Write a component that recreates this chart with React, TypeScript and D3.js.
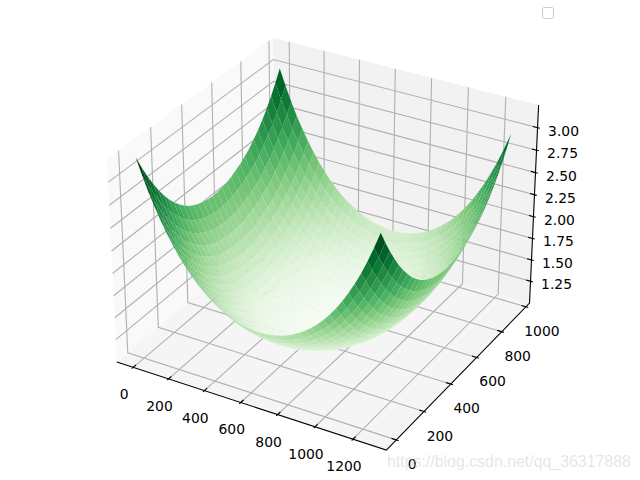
import React from "react";
import * as d3 from "d3";

const xTicks = [0, 200, 400, 600, 800, 1000, 1200];
const yTicks = [0, 200, 400, 600, 800, 1000];
const zTicks = [1.25, 1.5, 1.75, 2, 2.25, 2.5, 2.75, 3];
const zTickLabels = ["1.25", "1.50", "1.75", "2.00", "2.25", "2.50", "2.75", "3.00"];
const xLim = [-64, 1344];
const yLim = [-48, 1008];
const zLim = [1.036, 3.202];

const xs = [0, 32, 64, 96, 128, 160, 192, 224, 256, 288, 320, 352, 384, 416, 448, 480, 512, 544, 576, 608, 640, 672, 704, 736, 768, 800, 832, 864, 896, 928, 960, 992, 1024, 1056, 1088, 1120, 1152, 1184, 1216, 1248, 1280];
const ys = [0, 32, 64, 96, 128, 160, 192, 224, 256, 288, 320, 352, 384, 416, 448, 480, 512, 544, 576, 608, 640, 672, 704, 736, 768, 800, 832, 864, 896, 928, 960];

// Heights: one quadrant of the bowl, rows outward from the centre in y,
// columns outward from the centre in x. The other quadrants mirror it.
const bowlQuadrant = [
  [1.080, 1.082, 1.087, 1.097, 1.110, 1.127, 1.149, 1.176, 1.207, 1.244, 1.286, 1.335, 1.391, 1.455, 1.526, 1.607, 1.697, 1.798, 1.910, 2.034, 2.172],
  [1.082, 1.084, 1.089, 1.099, 1.112, 1.129, 1.151, 1.178, 1.209, 1.246, 1.289, 1.338, 1.394, 1.457, 1.529, 1.610, 1.700, 1.801, 1.913, 2.038, 2.176],
  [1.087, 1.089, 1.095, 1.104, 1.118, 1.135, 1.157, 1.184, 1.216, 1.253, 1.296, 1.345, 1.401, 1.465, 1.537, 1.618, 1.709, 1.810, 1.923, 2.048, 2.187],
  [1.097, 1.099, 1.104, 1.114, 1.127, 1.145, 1.167, 1.194, 1.226, 1.264, 1.307, 1.357, 1.414, 1.478, 1.551, 1.633, 1.724, 1.826, 1.940, 2.066, 2.205],
  [1.110, 1.112, 1.118, 1.127, 1.141, 1.159, 1.182, 1.209, 1.242, 1.280, 1.324, 1.374, 1.432, 1.497, 1.570, 1.653, 1.745, 1.848, 1.963, 2.090, 2.231],
  [1.127, 1.129, 1.135, 1.145, 1.159, 1.178, 1.201, 1.229, 1.262, 1.300, 1.345, 1.396, 1.455, 1.521, 1.596, 1.679, 1.773, 1.877, 1.993, 2.122, 2.264],
  [1.149, 1.151, 1.157, 1.167, 1.182, 1.201, 1.224, 1.253, 1.286, 1.326, 1.372, 1.424, 1.484, 1.551, 1.627, 1.712, 1.807, 1.913, 2.031, 2.161, 2.305],
  [1.176, 1.178, 1.184, 1.194, 1.209, 1.229, 1.253, 1.282, 1.317, 1.357, 1.404, 1.457, 1.518, 1.587, 1.665, 1.752, 1.848, 1.956, 2.076, 2.209, 2.355],
  [1.207, 1.209, 1.216, 1.226, 1.242, 1.262, 1.286, 1.317, 1.352, 1.394, 1.442, 1.497, 1.559, 1.630, 1.709, 1.798, 1.897, 2.007, 2.129, 2.264, 2.413],
  [1.244, 1.246, 1.253, 1.264, 1.280, 1.300, 1.326, 1.357, 1.394, 1.437, 1.486, 1.543, 1.607, 1.679, 1.761, 1.852, 1.953, 2.066, 2.190, 2.328, 2.480],
  [1.286, 1.289, 1.296, 1.307, 1.324, 1.345, 1.372, 1.404, 1.442, 1.486, 1.537, 1.596, 1.662, 1.736, 1.820, 1.913, 2.017, 2.133, 2.260, 2.401, 2.556],
  [1.335, 1.338, 1.345, 1.357, 1.374, 1.396, 1.424, 1.457, 1.497, 1.543, 1.596, 1.656, 1.724, 1.801, 1.887, 1.983, 2.090, 2.209, 2.339, 2.484, 2.642],
  [1.391, 1.394, 1.401, 1.414, 1.432, 1.455, 1.484, 1.518, 1.559, 1.607, 1.662, 1.724, 1.795, 1.874, 1.963, 2.062, 2.172, 2.294, 2.428, 2.576, 2.739],
  [1.455, 1.457, 1.465, 1.478, 1.497, 1.521, 1.551, 1.587, 1.630, 1.679, 1.736, 1.801, 1.874, 1.956, 2.048, 2.150, 2.264, 2.389, 2.528, 2.680, 2.847],
  [1.526, 1.529, 1.537, 1.551, 1.570, 1.596, 1.627, 1.665, 1.709, 1.761, 1.820, 1.887, 1.963, 2.048, 2.143, 2.249, 2.366, 2.496, 2.638, 2.795, 2.966],
  [1.607, 1.610, 1.618, 1.633, 1.653, 1.679, 1.712, 1.752, 1.798, 1.852, 1.913, 1.983, 2.062, 2.150, 2.249, 2.359, 2.480, 2.613, 2.760, 2.922, 3.098],
];
// Estimated tilt of the bowl, one offset per grid column and per grid row.
const xTilt = [0.03, 0.0285, 0.027, 0.0255, 0.024, 0.0225, 0.021, 0.0195, 0.018, 0.0165, 0.015, 0.0135, 0.012, 0.0105, 0.009, 0.0075, 0.006, 0.0045, 0.003, 0.0015, 0, -0.0015, -0.003, -0.0045, -0.006, -0.0075, -0.009, -0.0105, -0.012, -0.0135, -0.015, -0.0165, -0.018, -0.0195, -0.021, -0.0225, -0.024, -0.0255, -0.027, -0.0285, -0.03];
const yTilt = [0.1, 0.0853, 0.0707, 0.056, 0.0413, 0.0267, 0.015, 0.0033, -0.0033, -0.01, -0.0167, -0.0183, -0.02, -0.0217, -0.0233, -0.025, -0.0267, -0.0283, -0.03, -0.0317, -0.0333, -0.04, -0.0467, -0.0533, -0.06, -0.0667, -0.0733, -0.08, -0.0867, -0.0933, -0.1];

const height = (i: number, j: number) => bowlQuadrant[Math.abs(15 - j)][Math.abs(20 - i)] + xTilt[i] + yTilt[j];

const box = [1.143, 1.143, 0.857];
const qx = d3.scaleLinear().domain(xLim).range([-0.5, 0.5]);
const qy = d3.scaleLinear().domain(yLim).range([-0.5, 0.5]);
const qz = d3.scaleLinear().domain(zLim).range([-0.5, 0.5]);
const paneMargin = 1 / 48;
const xLo = qx.invert(-0.5 - paneMargin), xHi = qx.invert(0.5 + paneMargin);
const yLo = qy.invert(-0.5 - paneMargin), yHi = qy.invert(0.5 + paneMargin);
const zLo = qz.invert(-0.5 - paneMargin), zHi = qz.invert(0.5 + paneMargin);

const sx = d3.scaleLinear().domain([0, 1]).range([327, 327 + 2593]);
const sy = d3.scaleLinear().domain([0, 1]).range([234, 234 - 2593]);

function project(x: number, y: number, z: number) {
  const a = qx(x) * box[0], b = qy(y) * box[1], c = qz(z) * box[2];
  const s3 = Math.sqrt(3) / 2;
  const u = s3 * a + 0.5 * b;
  const v = -0.25 * a + (s3 / 2) * b + s3 * c;
  const n = 0.5 * s3 * a - 0.75 * b + 0.5 * c;
  const w = 10 - n;
  return { px: sx(u / w), py: sy(v / w), w };
}
const line = d3.line<[number, number, number]>().x((d) => project(d[0], d[1], d[2]).px).y((d) => project(d[0], d[1], d[2]).py);

type C = { path: string; z: number; depth: number };
const cells: C[] = [];
for (let j = 0; j < ys.length - 1; j++) for (let i = 0; i < xs.length - 1; i++) {
  const pts: [number, number, number][] = [
    [xs[i], ys[j], height(i, j)], [xs[i + 1], ys[j], height(i + 1, j)],
    [xs[i + 1], ys[j + 1], height(i + 1, j + 1)], [xs[i], ys[j + 1], height(i, j + 1)],
  ];
  cells.push({ path: line(pts) + "Z", z: d3.mean(pts, (p) => p[2])!, depth: d3.mean(pts, (p) => project(p[0], p[1], p[2]).w)! });
}
cells.sort((a, b) => b.depth - a.depth);
const zExtent = d3.extent(cells, (c) => c.z) as [number, number];
const greens = d3.schemeGreens[9];
const color = d3.scaleLinear<string>().domain(greens.map((_, k) => zExtent[0] + (k / 8) * (zExtent[1] - zExtent[0]))).range(greens);

const grid = "#b0b0b0";
const font = "'DejaVu Sans'";

export default function App() {
  return (
    <svg width={640} height={480} style={{ position: "absolute", left: 0, top: 0 }}>
      <rect width={640} height={480} fill="#fff" />
      <path d={line([[xLo, yLo, zLo], [xLo, yHi, zLo], [xLo, yHi, zHi], [xLo, yLo, zHi]]) + "Z"} fill="#f9f9f9" />
      <path d={line([[xLo, yHi, zLo], [xHi, yHi, zLo], [xHi, yHi, zHi], [xLo, yHi, zHi]]) + "Z"} fill="#f2f2f2" />
      <path d={line([[xLo, yLo, zLo], [xHi, yLo, zLo], [xHi, yHi, zLo], [xLo, yHi, zLo]]) + "Z"} fill="#f5f5f5" />
      {xTicks.map((t) => <path key={"gx" + t} d={line([[t, yLo, zLo], [t, yHi, zLo], [t, yHi, zHi]])!} fill="none" stroke={grid} strokeWidth={1.11} />)}
      {yTicks.map((t) => <path key={"gy" + t} d={line([[xHi, t, zLo], [xLo, t, zLo], [xLo, t, zHi]])!} fill="none" stroke={grid} strokeWidth={1.11} />)}
      {zTicks.map((t) => <path key={"gz" + t} d={line([[xLo, yLo, t], [xLo, yHi, t], [xHi, yHi, t]])!} fill="none" stroke={grid} strokeWidth={1.11} />)}
      <path d={line([[xLo, yLo, zLo], [xHi, yLo, zLo], [xHi, yHi, zLo], [xHi, yHi, zHi]])!} fill="none" stroke="#000" strokeWidth={1.11} />
      {xTicks.map((t) => {
        const d = (yHi - yLo) / 12;
        const p = project(t, yLo, zLo);
        return <g key={"tx" + t}>
          <path d={line([[t, yLo - 0.1 * d, zLo], [t, yLo + 0.2 * d, zLo]])!} stroke="#000" strokeWidth={1.11} />
          <text x={p.px - 9} y={p.py + 27} textAnchor="middle" dominantBaseline="central" fontFamily={font} fontSize={13.9}>{t}</text>
        </g>;
      })}
      {yTicks.map((t) => {
        const d = (xHi - xLo) / 12;
        const p = project(xHi, t, zLo);
        return <g key={"ty" + t}>
          <path d={line([[xHi + 0.1 * d, t, zLo], [xHi - 0.2 * d, t, zLo]])!} stroke="#000" strokeWidth={1.11} />
          <text x={p.px + 16} y={p.py + 24} textAnchor="middle" dominantBaseline="central" fontFamily={font} fontSize={13.9}>{t}</text>
        </g>;
      })}
      {zTicks.map((t, k) => {
        const d = (xHi - xLo) / 12;
        const p = project(xHi, yHi, t);
        return <g key={"tz" + t}>
          <path d={line([[xHi + 0.1 * d, yHi, t], [xHi - 0.2 * d, yHi, t]])!} stroke="#000" strokeWidth={1.11} />
          <text x={p.px + 26} y={p.py + 3} textAnchor="middle" dominantBaseline="central" fontFamily={font} fontSize={13.9}>{zTickLabels[k]}</text>
        </g>;
      })}
      {cells.map((c, k) => <path key={k} d={c.path} fill={color(c.z)} />)}
      <rect x={542.5} y={7.5} width={11} height={11} rx={2} fill="#fff" stroke="#ccc" strokeWidth={1} />
      <text x={387} y={467} fontFamily="'Liberation Sans'" fontSize={15.9} fill="#cccccc" fillOpacity={0.5}>https://blog.csdn.net/qq_36317888</text>
    </svg>
  );
}
